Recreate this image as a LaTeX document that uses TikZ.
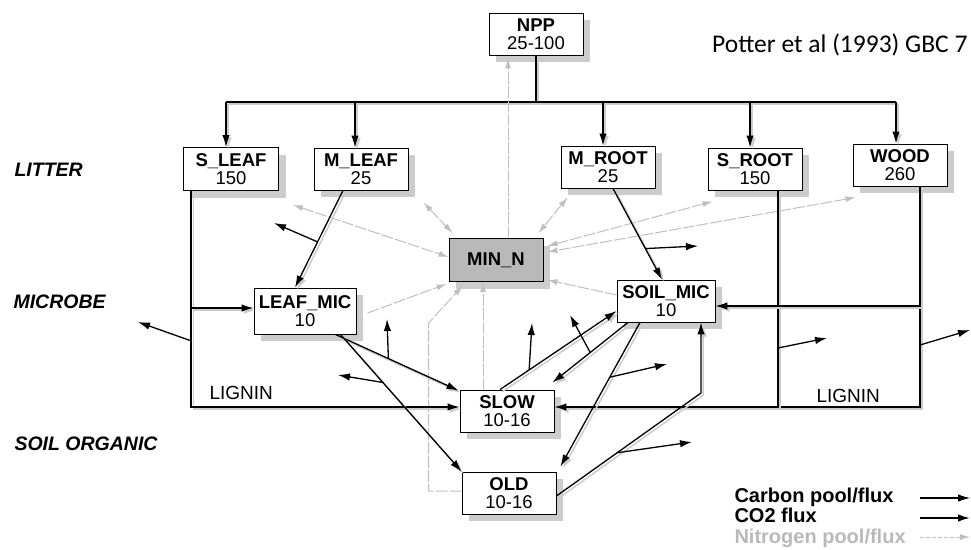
\documentclass[tikz,border=0pt]{standalone}
\usepackage{fontspec}
\setmainfont{Liberation Sans}
\newfontfamily\calib{Carlito}
\usetikzlibrary{arrows.meta,shadows,calc}
\tikzset{
  shd/.style={preaction={draw=gray!40,line width=1.5pt,transform canvas={shift={(2.2pt,-2.2pt)}}}},
}
\begin{document}
\begin{tikzpicture}[x=1pt,y=-1pt,
  >={Latex[length=12pt,width=7.5pt]},
  box/.style={draw=black,line width=0.9pt,fill=white,minimum width=94pt,minimum height=42pt,
    inner sep=0pt,align=center,font=\fontsize{18.5}{18}\selectfont,
    drop shadow={shadow xshift=7pt,shadow yshift=-7pt,fill=gray!40,opacity=1}},
  cline/.style={line width=1.3pt,shd},
  carbon/.style={cline,->},
  co2/.style={line width=1.3pt,->},
  nflow/.style={draw=gray!50,line width=1pt,dash pattern=on 12pt off 2pt,
    -{Latex[length=10pt,width=6pt]}},
  nboth/.style={nflow,{Latex[length=10pt,width=6pt]}-{Latex[length=10pt,width=6pt]}},
  rowlab/.style={anchor=base west,font=\bfseries\itshape\fontsize{19.5}{20}\selectfont},
  lig/.style={anchor=base west,font=\fontsize{19}{20}\selectfont},
  legtext/.style={anchor=base west,font=\bfseries\fontsize{20}{20}\selectfont},
]
\useasboundingbox (0,0) rectangle (971,549);

% ---------- boxes ----------
\node[box] (npp) at (536,34) {\textbf{NPP}\\25-100};
\node[box,minimum width=95pt,minimum height=43pt] (sleaf) at (231,169) {\textbf{S\_LEAF}\\150};
\node[box] (mleaf) at (361,169) {\textbf{M\_LEAF}\\25};
\node[box] (mroot) at (608,167) {\textbf{M\_ROOT}\\25};
\node[box] (sroot) at (755,169) {\textbf{S\_ROOT}\\150};
\node[box] (wood) at (900,165) {\textbf{WOOD}\\260};
\node[box,fill=gray!55,minimum height=43pt] (minn) at (496,260) {\textbf{MIN\_N}};
\node[box,minimum width=102pt,minimum height=46pt] (leafmic) at (305,311) {\textbf{LEAF\_MIC}\\10};
\node[box,minimum width=98pt] (soilmic) at (666,301) {\textbf{SOIL\_MIC}\\10};
\node[box] (slow) at (507,411) {\textbf{SLOW}\\10-16};
\node[box] (old) at (509,493) {\textbf{OLD}\\10-16};

% ---------- labels ----------
\node[anchor=base west,font=\calib\fontsize{25.5}{28}\selectfont,inner xsep=0pt] (ref) at (712,52) {Potter et al (1993) GBC 7};
\node[rowlab] (litter) at (11,176) {LITTER};
\node[rowlab] (microbe) at (10,308) {MICROBE};
\node[rowlab] (soilorg) at (11,450) {SOIL ORGANIC};
\node[lig] (ligl) at (206,399) {LIGNIN};
\node[lig] (ligr) at (813,402) {LIGNIN};

% ---------- NPP distribution ----------
\coordinate (bL) at (226,102);
\coordinate (bR) at (896,102);
\coordinate (b2) at (355,102);
\coordinate (b3) at (603,102);
\coordinate (b4) at (750,102);
\draw[cline] (npp.south) -- (npp.south |- bL);
\draw[cline] (bL) -- (bR);
\draw[carbon] (bL) -- (bL |- sleaf.north);
\draw[carbon] (b2) -- (b2 |- mleaf.north);
\draw[carbon] (b3) -- (b3 |- mroot.north);
\draw[carbon] (b4) -- (b4 |- sroot.north);
\draw[carbon] (bR) -- (bR |- wood.north);

% ---------- nitrogen flows ----------
\draw[nboth] ($(sleaf.south east)+(14,14)$) -- ($(minn.west)+(0,-3)$);
\draw[nboth] ($(mleaf.south east)+(15,12)$) -- ($(minn.north west)+(4,-5)$);
\draw[nboth] ($(mroot.south west)+(7,9)$) -- ($(minn.north east)+(-5,-5)$);
\draw[nboth] ($(sroot.south west)+(5,11)$) -- ($(minn.east)+(4,-14)$);
\draw[nboth] ($(wood.south west)+(3,11)$) -- ($(minn.east)+(4,-8)$);
\draw[nflow] ($(leafmic.east)+(11,2)$) -- ($(minn.south west)+(-2,2)$);
\draw[nflow] ($(soilmic.west)+(0,-6)$) -- ($(minn.south east)+(4,-2)$);
\draw[nflow] ($(slow.north)+(-24,0)$) -- ($(minn.south)+(-13,0)$);
\draw[nflow] ($(old.west)+(0,-2)$) -- ++(-33,0) -- ++(0,-168) -- ($(minn.south west)+(14,4)$);
\draw[nflow] ($(minn.north)+(12,0)$) -- ($(npp.south)+(-28,3)$);

% ---------- left frame (leaf litter) ----------
\draw[carbon] ($(sleaf.south west)+(8,0)$) |- ($(slow.west)+(0,-4)$);
\coordinate (lj) at (191.5,308);
\draw[carbon] (lj) -- (lj -| leafmic.west);
\coordinate (lco) at (191.5,341);
\coordinate (lcoe) at (138,322);
\draw[co2] (lco) -- (lcoe);

% ---------- right frame (root / wood litter) ----------
\coordinate (sr) at ($(sroot.south)+(23,0)$);
\coordinate (rb) at (920,407);
\draw[carbon] ($(wood.south)+(20,0)$) |- ($(slow.east)+(0,-4)$);
\draw[cline] (sr) -- (sr |- rb);
\coordinate (rj) at (920,306);
\draw[carbon] (rj) -- (rj -| soilmic.east);
\coordinate (rc1) at (778,348);
\coordinate (rc1e) at (827,338);
\draw[co2] (rc1) -- (rc1e);
\coordinate (rc2) at (920,345);
\coordinate (rc2e) at (970,330);
\draw[co2] (rc2) -- (rc2e);

% ---------- carbon flows between pools ----------
\draw[carbon] ($(mleaf.south)+(-18,0)$) -- coordinate[pos=0.53] (c1) ($(leafmic.north)+(-10,0)$);
\coordinate (c1e) at (274,223);
\draw[co2] (c1) -- (c1e);

\draw[carbon] ($(mroot.south)+(5,0)$) -- coordinate[pos=0.66] (c2) ($(soilmic.north)+(-4,0)$);
\coordinate (c2e) at (698,246);
\draw[co2] (c2) -- (c2e);

\draw[carbon] ($(leafmic.south east)+(-21,0)$) -- coordinate[pos=0.43] (c3) ($(slow.north west)+(-1,1)$);
\coordinate (c3e) at (387,319);
\draw[co2] (c3) -- (c3e);

\draw[carbon] ($(leafmic.south east)+(-16,0)$) -- coordinate[pos=0.35] (c4) (old.north west);
\coordinate (c4e) at (338,375);
\draw[co2] (c4) -- (c4e);

\draw[carbon] ($(slow.north)+(-7,0)$) -- coordinate[pos=0.25] (c5) ($(soilmic.west)+(0,10)$);
\coordinate (c5e) at (532,323);
\draw[co2] (c5) -- (c5e);

\draw[carbon] ($(soilmic.south)+(-38,0)$) -- coordinate[pos=0.5] (c6) ($(slow.north east)+(-2,-7)$);
\coordinate (c6e) at (570,315);
\draw[co2] (c6) -- (c6e);

\draw[carbon] ($(soilmic.south)+(-26,0)$) -- coordinate[pos=0.38] (c7) ($(old.north east)+(4,-5)$);
\coordinate (c7e) at (667,364);
\draw[co2] (c7) -- (c7e);

\coordinate (oc) at (701,393);
\draw[carbon] ($(old.east)+(0,3)$) -- coordinate[pos=0.42] (c8) (oc) -- (oc |- soilmic.south);
\coordinate (c8e) at (692,442);
\draw[co2] (c8) -- (c8e);

% ---------- legend ----------
\node[legtext] (lg1) at (731,502) {Carbon pool/flux};
\node[legtext] (lg2) at (731,522) {CO2 flux};
\node[legtext,text=gray!55] (lg3) at (731,543) {Nitrogen pool/flux};
\coordinate (la1) at (920,498); \coordinate (lb1) at (970,498);
\coordinate (la2) at (920,518); \coordinate (lb2) at (970,518);
\coordinate (la3) at (920,537); \coordinate (lb3) at (970,537);
\draw[line width=1.2pt,->] (la1) -- (lb1);
\draw[line width=1.8pt,->] (la2) -- (lb2);
\draw[nflow,dash pattern=on 4pt off 2pt] (la3) -- (lb3);
\end{tikzpicture}
\end{document}
